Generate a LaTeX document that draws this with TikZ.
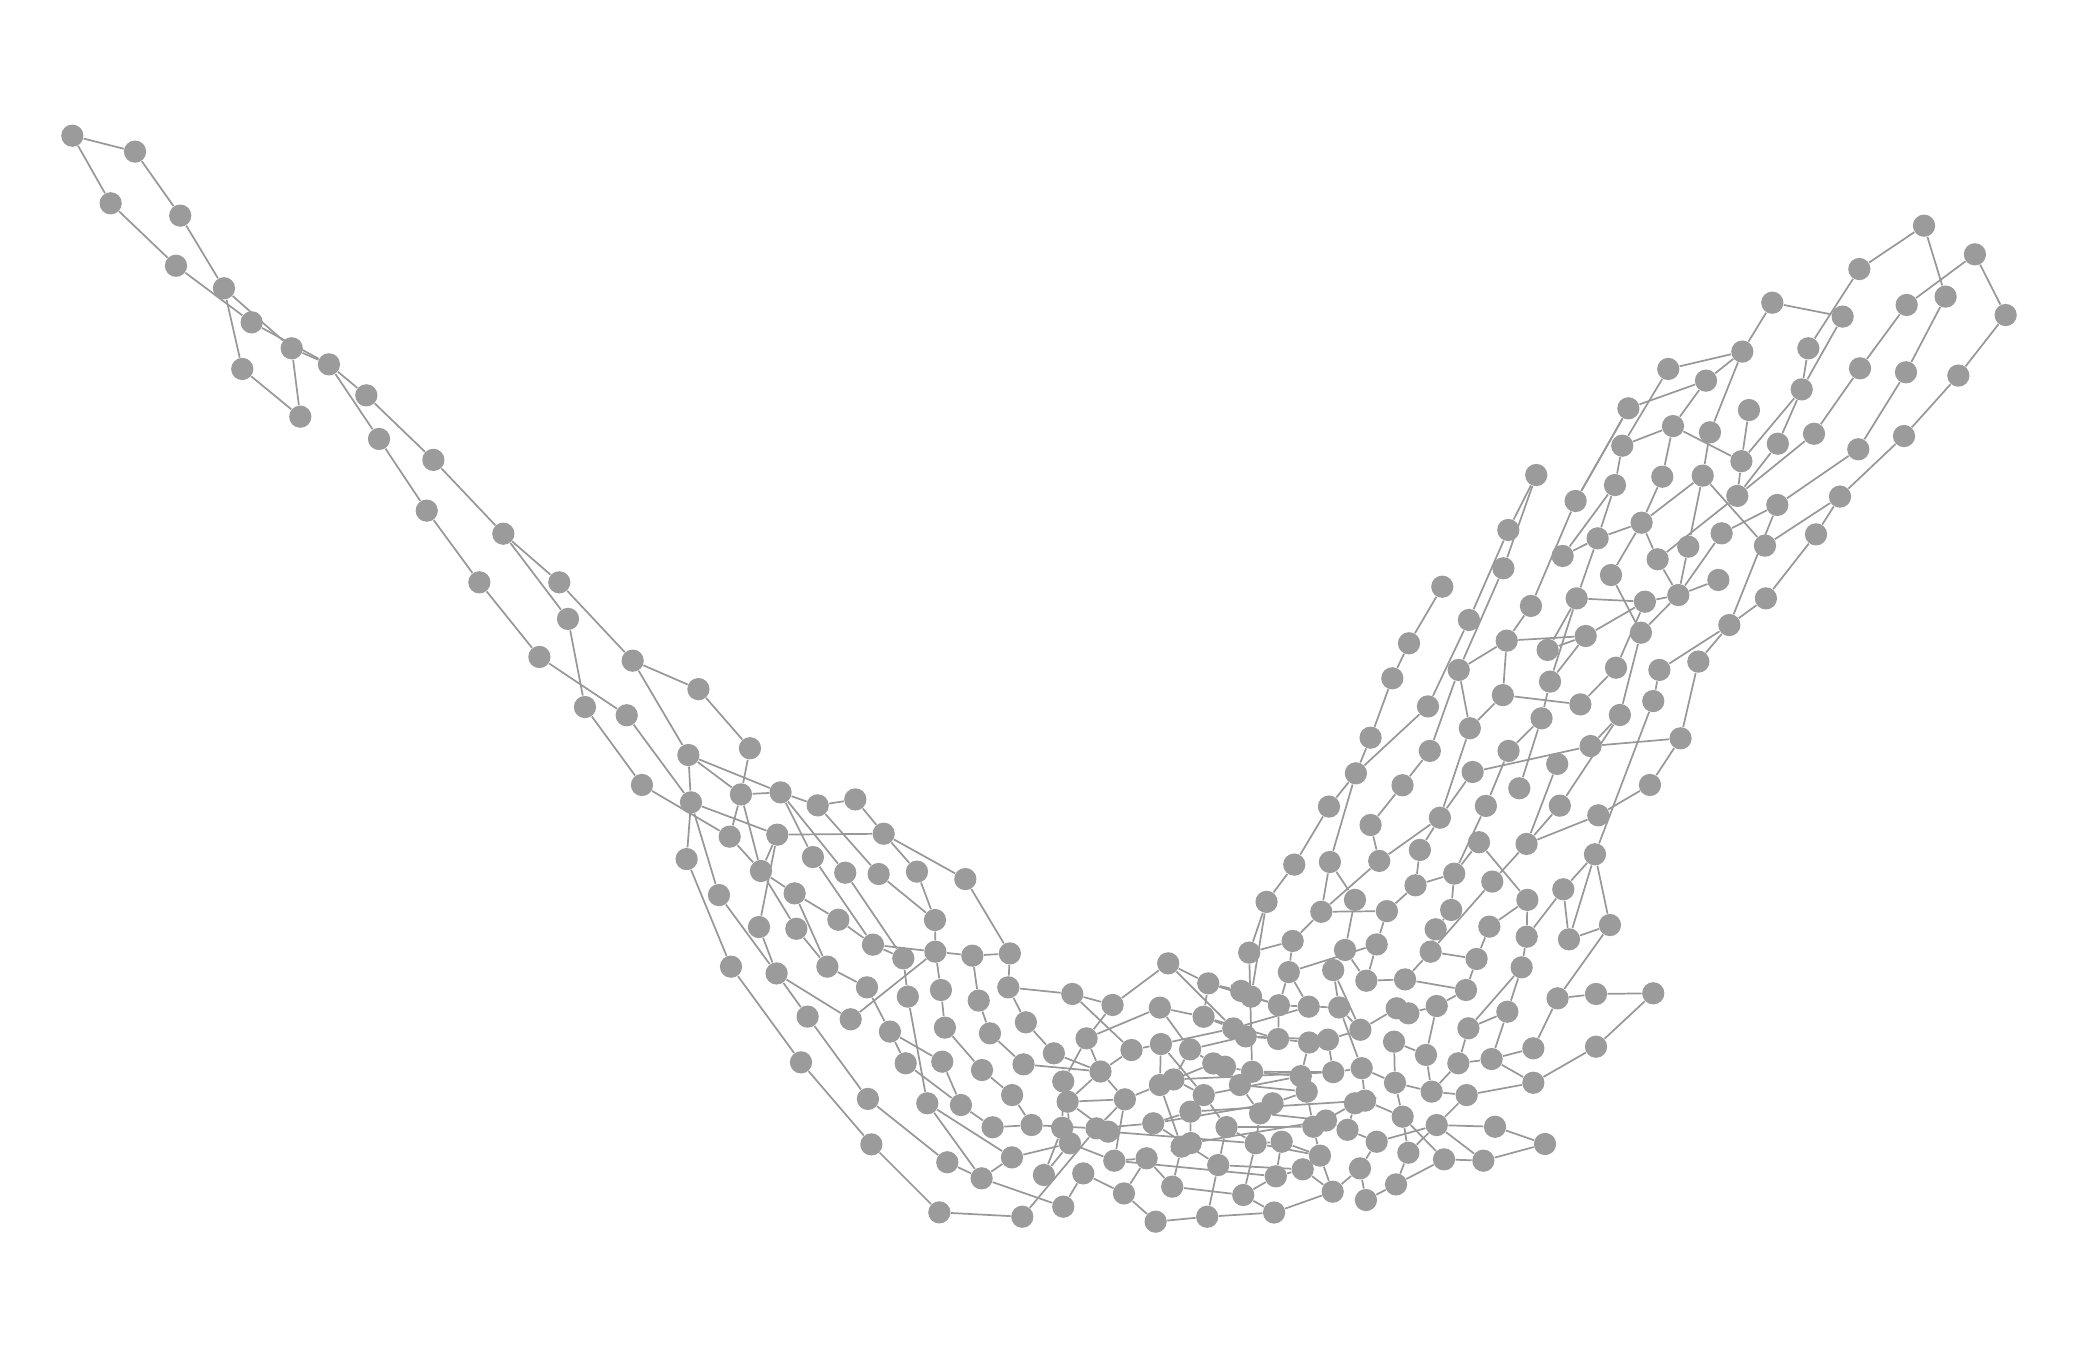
\documentclass[tikz,border=0pt]{standalone}
\usetikzlibrary{backgrounds}
\definecolor{vgray}{RGB}{155,155,155}
\definecolor{egray}{RGB}{152,152,152}
\begin{document}
\begin{tikzpicture}[x=0.5pt,y=-0.5pt,
  v/.style={circle,fill=vgray,draw=none,inner sep=0pt,minimum size=8.4pt},
  e/.style={draw=egray,line width=0.65pt}]
\useasboundingbox (0,0) rectangle (1568,1025);
\foreach \n/\x/\y in {
L1/54.6/102.4,L2/101.9/114.4,L3/83.5/153.4,L4/136/162.7,L5/132.8/200.5,L6/169/217.5,L7/189.9/243.2,L8/182.8/278.4,L9/220.1/262.8,L10/226.6/314.4,
L11/248.2/274.9,L12/276.4/298.3,L13/286/331.2,L14/327/347,L15/322/385.3,L16/379.8/402.7,L17/361.7/439.4,L18/422/439.4,L19/428.6/467,L20/407/495.7,
L21/477.4/498.5,L22/441.4/533.5,L23/472.9/539.7,L24/527/520,L25/565.9/564.6,L26/519.4/569.7,L27/484.4/592.3,L28/521.4/605.4,L29/559.1/599.4,L30/589/597.9,
L31/617/607.7,L32/645.4/603.2,L33/666.8/629.1,L34/586.5/629.8,L35/550.6/631.3,L36/518.1/648.2,L37/574.2/657.2,L38/613.4/646.7,L39/637.8/658.5,L40/663/659.5,
L41/691.9/657.7,L42/728.4/663.3,L43/542.5/675.4,L44/599.6/674.1,L45/572.7/699.5,L46/600.9/700.8,L47/632.6/694,L48/705.5/694.2,L49/551.6/729.4,L50/586/734.5,
L51/624.3/729.4,L52/658.7/712.8,L53/681.6/723.1,L54/705.8/718.1,L55/733.7/721.1,L56/762/719.4,L57/609.4/767.1,L58/641.9/769.1,L59/654.2/745,L60/685/752,
L61/710/747,L62/738.5/755,L63/760.8/745,L64/604.4/801.6,L65/671.5/778.4,L66/713/775.4,L67/747/779.7,L68/774.1/771.4,L69/683.4/802.3,L70/711/801.1,
L71/741/807.4,L72/772.3/803.1,L73/795.2/794.8,L74/654.9/829.2,L75/699.7/832.5,L76/725.1/833.8,L77/763.7/826.3,L78/802.3/816,L79/657.5/863.5,L80/749/850.6,
L81/778.4/848.9,L82/801.5/851,L83/714.8/877,L84/740.7/889.1,L85/763.6/873.3,L86/787.7/886.6,L87/708.8/914.8,L88/771.4/918.1,L89/802.3/910.5,L90/817.4/885.4}
  \node[v] (\n) at (\x,\y) {};
\foreach \n/\x/\y in {
C1/809.1/750,C2/881.5/726.9,C3/839.5/758.3,C4/875.2/760.3,C5/911.7/742,C6/942.6/718.8,C7/955.7/680.5,C8/936.5/747.7,C9/944/752,C10/965/758.5,
C11/908.2/767.2,C12/930.6/776,C13/940/782,C14/964.4/784,C15/819.9/783.5,C16/853.8/792.3,C17/876/787.8,C18/898/791.8,C19/830.4/808.5,C20/915.5/802.4,
C21/944.8/808.7,C22/805.6/831.3,C23/848.8/829.5,C24/875.2/818.7,C25/885.5/814.5,C26/908.3/826.3,C27/935.6/818.7,C28/807.3/862.7,C29/827.4/851.4,C30/836.2/853.9,
C31/870.2/847.6,C32/898.2/838.8,C33/925.5/850.5,C34/950.8/840.1,C35/960.2/832.5,C36/840.8/875.8,C37/865.2/874,C38/891.6/865.2,C39/898.5/862.5,C40/919.2/879.1,
C41/947.5/862.7,C42/962.7/887.6,C43/848.1/900.5,C44/884.5/895.4,C45/938.1/901.7,C46/872/921.8,C47/910.9/918.1,C48/961.4/914.9,C49/924.3/804.9}
  \node[v] (\n) at (\x,\y) {};
\foreach \n/\x/\y in {
R1/997/688,R2/1022.4/679,R3/1046.5/687.5,R4/1095/686.6,R5/1083.3/701.2,R6/1123.8/699.2,R7/1152.5/679,R8/1214.8/698,R9/975.4/710,R10/1014.9/716.8,
R11/1038.8/712.6,R12/1079.5/718.1,R13/1152/706.8,R14/1183.9/708.8,R15/972.5/733.5,R16/1006/732,R17/1031/740,R18/1060.2/739,R19/1114.2/723.6,R20/1148.2/729.9,
R21/1106.2/747,R22/1175.3/753.3,R23/1204.3/750,R24/1247.5/749.5,R25/987.5/759.6,R26/1010.5/760.2,R27/1053.9/760.8,R28/1062.7/764.6,R29/1084.1/759.1,R30/1137.4/763.4,
R31/987.8/786.6,R32/1002/784.5,R33/1026.5/777,R34/1051.9/786,R35/1108/775.9,R36/1157/791,R37/1204.3/789.8,R39/1076/796,R40/1100.4/802.3,
R41/1125.5/799.1,R42/1006/809,R43/1027.5/806,R44/981.5/812,R45/1157/817,R46/986/823.7,R47/1052.6/817,R48/1080.3/823.7,R49/1106.7/826.3,R50/1030/830.5,
R51/1022.4/832.5,R52/1058.4/842.6,R53/1084.1/848.9,R54/1128.1/850.2,R55/1165.8/863.2,R56/991/850.2,R57/1000.5/845.5,R58/1016.8/852.5,R59/967.1/861.5,R60/1038.8/861.5,
R61/1062.7/869.8,R62/1089.6/874.8,R63/1119.3/875.8,R64/996/872,R65/983/882.3,R66/1026.2/881.6,R67/1005.6/899.2,R68/1030.7/905.5,R69/1053.4/893.7}
  \node[v] (\n) at (\x,\y) {};
\foreach \n/\x/\y in {
Q1/976.6/652.4,Q2/1003.5/650.4,Q3/1002.8/608.6,Q4/1034.2/622.5,Q5/1040.7/649.6,Q6/1023.1/583.5,Q7/1034.2/556.6,Q8/1058.3/592.5,Q9/1078.9/566.6,Q10/1077.5/533,
Q11/1071.4/641.3,Q12/1086.5/617,Q13/1068.1/668,Q14/1097.3/659.2,Q15/1111.2/582.5,Q16/1109.1/549.5,Q17/1134/524.5,Q18/1116/635.5,Q19/1121.2/608.1,Q20/1138.3/566.6,
Q21/1126/665.2,Q22/1146.4/594.8,Q23/1163.2/542,Q24/1192.5/531.5,Q25/1175/576.4,Q26/1151.9/636.8,Q27/1177/607.9,Q28/1200.2/562.9,Q29/1222.3/539.5,Q30/1247.5/529,
Q31/1268.1/557.1,Q32/1206/615.2,Q33/1245/592.3,Q34/1203.5/644.6,Q35/1179.6/671}
  \node[v] (\n) at (\x,\y) {};
\foreach \n/\x/\y in {
P1/1159.2/358.4,P2/1138.1/399.9,P3/1134.4/428.8,P4/1088.3/442.7,P5/1108.4/467.8,P6/1063.2/485.4,P7/1050.6/511.8,P8/1100.7/505.5,P9/1136.9/483.4,P10/1155.2/457.2,
P11/1179.1/419.5,P12/1188.9/378,P13/1224.1/336.3,P14/1218.6/366,P15/1205.5/406.2,P16/1262.4/321.5,P17/1290.3/326.2,P18/1341.5/334.8,P19/1368.8/327.3,P20/1254.3/359.7,
P21/1284.8/358.9,P22/1314/348,P23/1310.9/374.2,P24/1238.7/394.4,P25/1273.9/412.5,P26/1299.1/402.4,P27/1341.1/381,P28/1388.4/374.7,P29/1331.8/411.7,P30/1370.3/403.2,
P31/1250.8/422,P32/1215.6/433.9,P33/1266.4/449,P34/1296.6/437.6,P35/1189.7/451.5,P36/1241.2/454,P37/1332.5/451.5,P38/1167.8/490.4,P39/1196.5/479.9,P40/1238.2/477.4,
P41/1304.9/471.6,P42/1169.6/514.3,P43/1219.4/503.8,P44/1252.1/505.5,P45/1281.5/499.2}
  \node[v] (\n) at (\x,\y) {};
\foreach \n/\x/\y in {
T1/1451.8/170.3,T2/1490.2/191.9,T3/1403/203,T4/1513.4/237.7,T5/1468.1/223.8,T6/1438.7/230.1,T7/1337.3/228.4,T8/1390.4/238.9,T9/1314.7/265.3,T10/1364.5/262.8,
T11/1258.8/278.4,T12/1287.3/287.2,T13/1403.5/277.9,T14/1438.2/280.9,T15/1477.7/283.4,T16/1359.5/293.8,T17/1228.7/308.1,T18/1319.7/309.4,T19/1402.2/339,T20/1436.7/329}
  \node[v] (\n) at (\x,\y) {};
\begin{scope}[on background layer]
\foreach \a/\b in {
L1/L2,L1/L3,L2/L4,L3/L5,L4/L6,L5/L7,L6/L9,L7/L11,L9/L11,L6/L8,L8/L10,L9/L10,L11/L12,L11/L13,L12/L14,L13/L15,L14/L16,L15/L17,L16/L18,L16/L19,
L17/L20,L18/L21,L19/L22,L20/L23,L21/L24,L21/L26,L24/L25,L22/L27,L23/L28,L26/L28,L26/L29,L26/L30,L25/L29,L29/L30,L30/L31,L31/L32,L32/L33,L34/L33,L34/L37,L35/L37,
L29/L35,L29/L37,L27/L35,L28/L34,L28/L36,L28/L43,L30/L38,L30/L39,L31/L40,L33/L41,L33/L42,L37/L44,L34/L45,L37/L46,L44/L47,L44/L51,L38/L52,L39/L53,L40/L48,L41/L48,
L48/L54,L42/L56,L47/L52,L52/L53,L52/L54,L54/L55,L55/L56,L45/L50,L43/L50,L36/L49,L46/L51,L51/L59,L49/L64,L64/L79,L79/L87,L87/L88,L57/L74,L74/L83,L83/L84,L50/L57,
L50/L58,L58/L54,L59/L65,L65/L69,L60/L75,L53/L60,L54/L61,L61/L66,L55/L62,L62/L67,L66/L71,L65/L70,L70/L76,L76/L80,L75/L84,L75/L85,L69/L76,L56/L63,L63/L68,L68/L73,
L67/L72,L71/L77,L77/L81,L80/L81,L84/L85,L85/C28,L86/C28,L82/L78,L82/L86,L88/C29,L89/L90,L90/C43,L72/C19,L73/C19,L78/C15,L81/C29,L63/C1,L84/L89}
  \draw[e] (\a) -- (\b);
\foreach \a/\b in {
C1/C3,C1/C16,C2/C3,C3/C15,C2/C12,C4/C15,C4/C18,C5/C8,C5/C11,C6/C7,C7/C9,C6/C21,C16/C19,C16/C17,C17/C12,C18/C20,C19/C22,C19/C23,C22/C28,C22/C23,
C23/C29,C23/C36,C24/C23,C25/C26,C26/C32,C26/C33,C27/C34,C33/C41,C34/C41,C35/C34,C29/C31,C31/C32,C31/C40,C28/C36,C36/C37,C43/C37,C37/C44,C44/C45,C40/C47,C45/C48,
C41/C45,C43/C46,C46/C47,C47/C48,C30/C41,C11/C12,C20/C49,C49/C21,C21/R44,C14/C10,C10/R25,C14/R31,C13/C14,C8/C9,C24/C17,C25/C18,C27/C21,C27/C49,C32/C39,C38/C39,
C38/C24,C40/C33,C41/R59,C42/R59,C42/R65,C42/C45,C48/R67,C35/R46,C34/R57,C2/C5,C4/C11,C9/C10,C12/C13,C6/R9,C31/C35,C32/R50,C39/R57,C40/R65,C25/R42,C24/C20,
C26/R44,C18/C13,C15/C19,C30/C29,C44/C38,C11/C14,C5/C10,C13/R32,C21/R42,C27/R46,C33/R56,C41/R64,C12/R25,C20/C27,C36/C42,C22/C30,C17/C26}
  \draw[e] (\a) -- (\b);
\foreach \a/\b in {
R1/R3,R1/R9,R2/R10,R3/R11,R4/R5,R5/R12,R12/R18,R11/R15,R9/R15,R10/R16,R10/R17,R6/R19,R6/R7,R8/R22,R22/R23,R23/R24,R24/R37,R37/R45,R20/R35,R19/R21,
R21/R18,R21/R29,R17/R18,R16/R26,R15/R25,R29/R39,R35/R40,R36/R41,R36/R22,R40/R41,R45/R41,R48/R40,R48/R39,R49/R53,R53/R54,R54/R55,R53/R63,R62/R63,R63/R55,R62/R52,
R52/R47,R53/R61,R61/R69,R60/R53,R60/R66,R66/R68,R64/R67,R67/R66,R47/R34,R50/R51,R57/R58,R56/R57,R31/R32,R32/R33,R33/R27,R27/R28,R28/R29,R42/R43,R43/R50,R44/R46,
R46/R56,R59/R64,R65/R67,R68/R69,R49/R48,R30/R41,R20/R30,R13/R20,R13/R7,R14/R8,R15/C10,R26/R33,R34/R39,R35/R30,R12/R19,R11/R17,R58/R60,R51/R58,R52/R61,R62/R69,
R49/R45,R56/R64,Q2/R1,R1/Q5,R3/Q13,R4/Q14,R12/Q21,R14/Q35,R7/Q18,R13/Q35,C7/Q1,R2/Q2,R25/R26,R16/R33,R31/R44,R32/R42,R43/R47,R47/R48,R50/R52,R51/R56,R26/R43,R8/Q34}
  \draw[e] (\a) -- (\b);
\foreach \a/\b in {
Q1/Q3,Q3/Q6,Q6/Q7,Q7/P7,Q2/Q6,Q6/Q10,Q4/Q8,Q8/Q9,Q9/P8,Q5/Q12,Q12/Q15,Q15/Q28,Q28/Q31,Q16/Q12,Q16/Q17,Q17/Q24,Q23/Q20,Q22/Q23,Q19/Q20,Q14/Q19,
Q13/Q14,Q14/Q18,Q21/Q26,Q26/Q32,Q32/Q33,Q33/Q31,Q26/Q27,Q26/Q25,Q27/Q29,Q34/Q30,Q35/Q34,Q28/Q29,Q11/Q12,Q11/Q13,Q34/R14,Q4/Q5,Q10/P5}
  \draw[e] (\a) -- (\b);
\foreach \a/\b in {
P1/P2,P1/P3,P2/P5,P3/P8,P4/P6,P6/P7,P9/P10,P10/P12,P11/P14,P12/T17,P13/P14,P14/P15,P15/P35,P15/P11,P13/P16,P16/P20,P20/P24,P24/P31,P24/P15,P16/P22,
P17/P21,P22/T18,P21/P24,P21/P29,P21/P25,P22/P23,P18/P23,P23/P31,P19/P23,P26/P27,P26/P33,P27/P41,P28/P29,P28/P30,P30/P37,P37/P41,P41/P44,P31/P33,P25/P33,P33/P34,
P33/P36,P36/P35,P36/P39,P33/P40,P36/P43,P35/P38,P35/P42,P38/P39,P9/P39,P39/P42,P40/Q29,P9/P8,P9/Q17,P8/Q16,P42/Q23,P43/Q24,P44/Q30,P45/P41,P45/Q31,P32/P24,
P32/P40}
  \draw[e] (\a) -- (\b);
\foreach \a/\b in {
T1/T3,T1/T5,T2/T6,T2/T4,T3/T10,T8/T16,T7/T8,T7/T9,T9/T11,T9/T12,T9/P17,T11/P13,T12/T17,T17/P12,T12/P16,T10/T16,T16/P18,T16/P22,T13/P19,T13/T6,
T14/T5,T14/T19,T15/T4,T15/T20,T19/P27,T20/P28}
  \draw[e] (\a) -- (\b);
\end{scope}
\end{tikzpicture}
\end{document}
